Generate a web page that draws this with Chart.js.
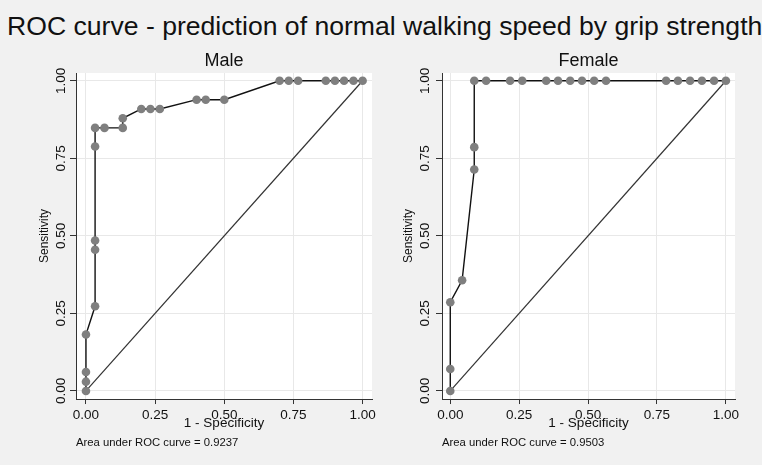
<!DOCTYPE html>
<html>
<head>
<meta charset="utf-8">
<script src="https://cdn.jsdelivr.net/npm/chart.js@4.4.0/dist/chart.umd.min.js"></script>
<style>
  body { margin: 0; background: #fff; }
  #grafico { position: relative; width: 762px; height: 465px; background: #f1f1f1; font-family: "Liberation Sans", Arial, sans-serif; }
  #titulo { position: absolute; left: 7px; top: 13px; font-size: 26.6px; line-height: 1; color: #111; white-space: nowrap; }
  #cMale { position: absolute; left: 0; top: 0; }
  #cFemale { position: absolute; left: 384px; top: 0; }
</style>
</head>
<body>
<div id="grafico">
  <div id="titulo">ROC curve - prediction of normal walking speed by grip strength</div>
  <canvas id="cMale" width="384" height="465"></canvas>
  <canvas id="cFemale" width="385" height="465"></canvas>
</div>
<script>
// valores
const tickVals = [0, 0.25, 0.5, 0.75, 1];

const maleFpr  = [0, 0, 0, 0, 0.033, 0.033, 0.033, 0.033, 0.033, 0.067, 0.133, 0.133, 0.2, 0.233, 0.267,
                  0.4, 0.433, 0.5, 0.7, 0.733, 0.767, 0.867, 0.9, 0.933, 0.967, 1];
const maleSens = [0, 0.030, 0.061, 0.182, 0.273, 0.455, 0.485, 0.788, 0.848, 0.848, 0.848, 0.879, 0.909, 0.909, 0.909,
                  0.939, 0.939, 0.939, 1, 1, 1, 1, 1, 1, 1, 1];
const maleAuc = '0.9237';

const femaleFpr  = [0, 0, 0, 0.043, 0.087, 0.087, 0.087, 0.130, 0.217, 0.261, 0.348, 0.391, 0.435, 0.478,
                    0.522, 0.565, 0.783, 0.826, 0.870, 0.913, 0.957, 1];
const femaleSens = [0, 0.071, 0.286, 0.357, 0.714, 0.786, 1, 1, 1, 1, 1, 1, 1, 1,
                    1, 1, 1, 1, 1, 1, 1, 1];
const femaleAuc = '0.9503';

const diagX = [0, 1];
const diagY = [0, 1];

Chart.defaults.font.family = '"Liberation Sans", Arial, sans-serif';
Chart.defaults.color = '#111';

// fundo branco so na area do grafico
const fundoBranco = {
  id: 'fundoBranco',
  beforeDraw(chart) {
    const a = chart.chartArea;
    const ctx = chart.ctx;
    ctx.save();
    ctx.fillStyle = '#ffffff';
    ctx.fillRect(a.left, a.top, a.right - a.left, a.bottom - a.top);
    ctx.restore();
  }
};

function pontos(xs, ys) {
  return xs.map((x, i) => ({ x: x, y: ys[i] }));
}

function fixarTicks(axis) {
  axis.ticks = tickVals.map(v => ({ value: v }));
}

function criaRoc(id, titulo, fpr, sens, auc, cfg) {
  const ctx = document.getElementById(id).getContext('2d');
  return new Chart(ctx, {
    type: 'scatter',
    data: {
      datasets: [{
        data: pontos(fpr, sens),
        showLine: true,
        borderColor: '#111',
        borderWidth: 1.4,
        pointRadius: 4.3,
        pointBackgroundColor: '#7f7f7f',
        pointBorderWidth: 0,
        tension: 0
      }, {
        data: pontos(diagX, diagY),
        showLine: true,
        borderColor: '#333',
        borderWidth: 1.2,
        pointRadius: 0
      }]
    },
    options: {
      responsive: false,
      animation: false,
      events: [],
      layout: { padding: { left: cfg.padL, right: cfg.padR, top: 50.1, bottom: 15.7 } },
      plugins: {
        legend: { display: false },
        tooltip: { enabled: false },
        title: {
          display: true, text: titulo, fullSize: false,
          font: { size: 18, weight: 'normal' }, color: '#111',
          padding: { top: 0, bottom: 1.3 }
        },
        subtitle: {
          display: true, text: 'Area under ROC curve = ' + auc,
          position: 'bottom', align: 'start', fullSize: false,
          font: { size: 11.3 }, color: '#111',
          padding: { top: 4.1, bottom: 0 }
        }
      },
      scales: {
        x: {
          type: 'linear', min: cfg.xMin, max: cfg.xMax,
          afterBuildTicks: fixarTicks,
          afterFit: function(ax) { ax.height = 32.6; ax.paddingLeft = 0; ax.paddingRight = 0; },
          ticks: { maxRotation: 0, padding: 3, font: { size: 13.5 }, color: '#111',
                   callback: v => v.toFixed(2) },
          grid: { color: '#e8e8e8', tickColor: '#333', tickLength: 5 },
          border: { color: '#333', width: 1 },
          title: { display: true, text: '1 - Specificity', font: { size: 13.5 }, color: '#111',
                   padding: { top: 0, bottom: 0 } }
        },
        y: {
          type: 'linear', min: -0.026, max: 1.025,
          afterBuildTicks: fixarTicks,
          afterFit: function(ax) { ax.width = cfg.yW; ax.paddingTop = 0; ax.paddingBottom = 0; },
          ticks: { minRotation: 90, maxRotation: 90, crossAlign: 'center', padding: cfg.tickPad,
                   font: { size: 13.5 }, color: '#111', callback: v => v.toFixed(2) },
          grid: { color: '#e8e8e8', tickColor: '#333', tickLength: 6 },
          border: { color: '#333', width: 1 },
          title: { display: true, text: 'Sensitivity', font: { size: 12 }, color: '#111',
                   padding: { top: 7.8, bottom: 0 } }
        }
      }
    },
    plugins: [fundoBranco]
  });
}

criaRoc('cMale', 'Male', maleFpr, maleSens, maleAuc,
  { padL: 30, padR: 12, yW: 46, tickPad: -4.5, xMin: -0.036, xMax: 1.034 });
criaRoc('cFemale', 'Female', femaleFpr, femaleSens, femaleAuc,
  { padL: 9.3, padR: 34, yW: 48.7, tickPad: -2, xMin: -0.030, xMax: 1.033 });
</script>
</body>
</html>
